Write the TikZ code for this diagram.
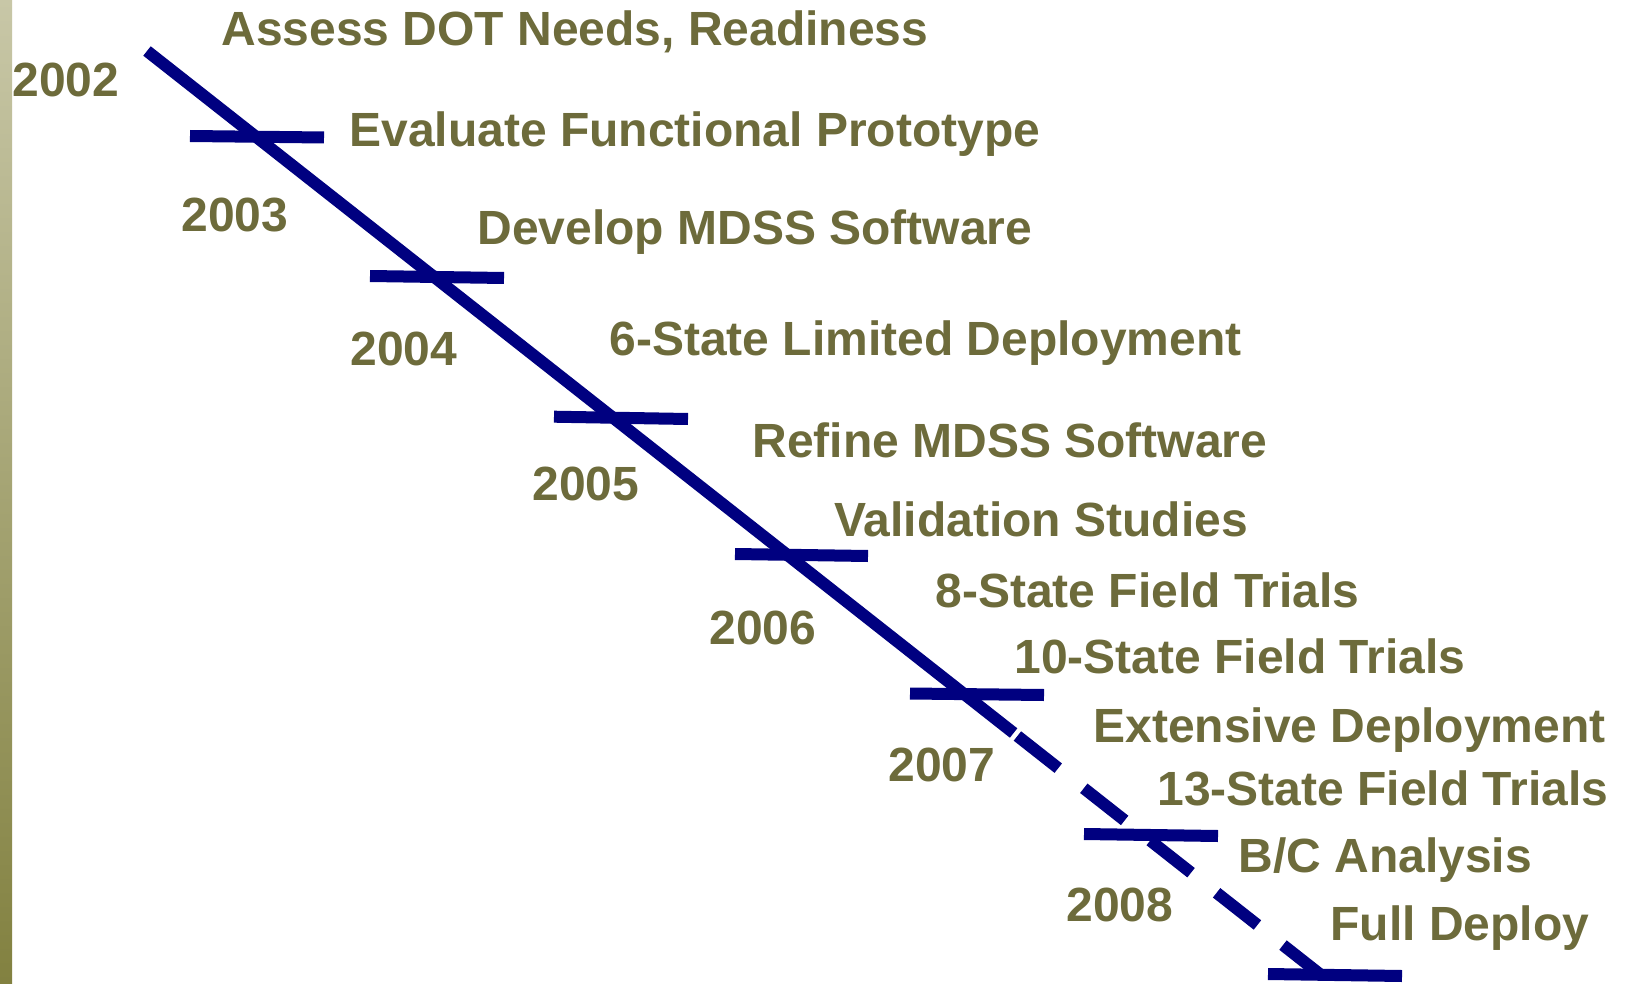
\documentclass[tikz,border=0pt]{standalone}
\usepackage{fontspec}
\setmainfont{Liberation Sans}
\definecolor{olivetext}{RGB}{109,107,59}
\definecolor{navyline}{RGB}{0,0,128}
\definecolor{bartop}{RGB}{200,199,167}
\definecolor{barbottom}{RGB}{130,129,64}
\tikzset{
  lbl/.style={anchor=base west, inner sep=0pt, text=olivetext, font=\fontsize{24}{28}\selectfont\bfseries},
  tick/.style={draw=navyline, line width=6pt, line cap=butt},
  mainline/.style={draw=navyline, line width=6pt, line cap=butt},
  dashline/.style={draw=navyline, line width=6pt, line cap=butt, dash pattern=on 26pt off 16.25pt},
}
\begin{document}
\begin{tikzpicture}[x=0.5pt,y=-0.5pt]
\useasboundingbox (0,0) rectangle (1627,984);
\fill[white] (0,0) rectangle (1627,984);
% left gradient bar
\shade[top color=bartop, bottom color=barbottom] (0,0) rectangle (12,984);

% main line coordinates
\coordinate (s0) at (147,51);
\coordinate (s1) at (1013.6,733);
\coordinate (d0) at (1017.4,736);
\coordinate (d1) at (1321,975);

% ticks
\coordinate (t3a) at (190,136);   \coordinate (t3b) at (324,137.5);
\coordinate (t4a) at (370,276);   \coordinate (t4b) at (504,278);
\coordinate (t5a) at (554,416.7); \coordinate (t5b) at (688,419);
\coordinate (t6a) at (735,554);   \coordinate (t6b) at (868,556);
\coordinate (t7a) at (910,693.5); \coordinate (t7b) at (1044,695);
\coordinate (t8a) at (1084,834);  \coordinate (t8b) at (1218,836);
\coordinate (t9a) at (1268,974);  \coordinate (t9b) at (1402,976);

\foreach \i in {3,...,9} { \path[tick] (t\i a) -- (t\i b); }

\path[mainline] (s0) -- (s1);
\path[dashline] (d0) -- (d1);

% year labels
\node[lbl] (y2002) at (12,97) {2002};
\node[lbl] (y2003) at (181,232) {2003};
\node[lbl] (y2004) at (350,365) {2004};
\node[lbl] (y2005) at (532,500) {2005};
\node[lbl] (y2006) at (709,644) {2006};
\node[lbl] (y2007) at (888,781) {2007};
\node[lbl] (y2008) at (1066,921) {2008};

% activity labels
\node[lbl] (a1) at (221,46) {Assess DOT Needs, Readiness};
\node[lbl] (a2) at (349,147) {Evaluate Functional Prototype};
\node[lbl] (a3) at (477,245) {Develop MDSS Software};
\node[lbl] (a4) at (609,355) {6-State Limited Deployment};
\node[lbl] (a5) at (752,457) {Refine MDSS Software};
\node[lbl] (a6) at (834,536) {Validation Studies};
\node[lbl] (a7) at (935,607) {8-State Field Trials};
\node[lbl] (a8) at (1014,673) {10-State Field Trials};
\node[lbl] (a9) at (1093,742) {Extensive Deployment};
\node[lbl] (a10) at (1157,805) {13-State Field Trials};
\node[lbl] (a11) at (1238,872) {B/C Analysis};
\node[lbl] (a12) at (1330,940) {Full Deploy};
\end{tikzpicture}
\end{document}
